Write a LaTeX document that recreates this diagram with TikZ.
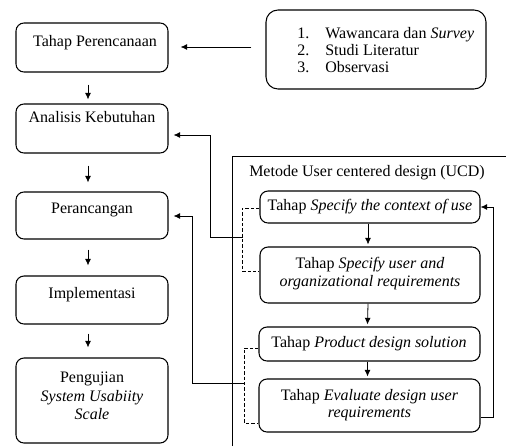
\documentclass[tikz,border=0pt]{standalone}
\usepackage{fontspec}
\setmainfont{Liberation Serif}
\usetikzlibrary{arrows.meta,calc}
\begin{document}
\begin{tikzpicture}[x=0.75pt,y=-0.75pt,
 box/.style={draw,rounded corners=6pt,line width=0.8pt,inner sep=0pt},
 txt/.style={font=\fontsize{12}{13}\selectfont,inner sep=0pt,align=center},
 arr/.style={-{Latex[length=5pt,width=4.5pt]},line width=0.6pt},
 ln/.style={line width=0.6pt},
 dsh/.style={line width=0.6pt,dash pattern=on 2.5pt off 1.5pt}]
\useasboundingbox (0,0) rectangle (506,446);
% left column
\node[box,minimum width=114pt,minimum height=36.75pt] (b1) at (92,47.5) {};
\node[box,minimum width=114pt,minimum height=36.75pt] (b2) at (92,128.5) {};
\node[box,minimum width=114pt,minimum height=35.25pt] (b3) at (92,215.5) {};
\node[box,minimum width=114pt,minimum height=36pt] (b4) at (92,300) {};
\node[box,minimum width=114pt,minimum height=63.75pt] (b5) at (92,400.5) {};
\node[txt] (t1) at (95,43) {Tahap Perencanaan};
\node[txt] (t2) at (92,117) {Analisis Kebutuhan};
\node[txt] (t3) at (92,210) {Perancangan};
\node[txt] (t4) at (92,295) {Implementasi};
\node[txt,font=\fontsize{12}{14}\selectfont] (t5) at (92,396) {Pengujian\\\emph{System Usabiity}\\\emph{Scale}};
\draw[arr] ($(b1.south)+(-4,12)$) -- ($(b2.north)+(-4,-4)$);
\draw[arr] ($(b2.south)+(-4,12)$) -- ($(b3.north)+(-4,-9)$);
\draw[arr] ($(b3.south)+(-4,10)$) -- ($(b4.north)+(-4,-10)$);
\draw[arr] ($(b4.south)+(-4,9)$) -- ($(b5.north)+(-4,-10)$);
% list box
\node[box,rounded corners=9pt,minimum width=165pt,minimum height=59.25pt] (lst) at (376,49.5) {};
\node[txt,align=left,anchor=west,font=\fontsize{12}{12.75}\selectfont] (lt) at (297,50)
 {\makebox[21pt][l]{1.}Wawancara dan \emph{Survey}\\\makebox[21pt][l]{2.}Studi Literatur\\\makebox[21pt][l]{3.}Observasi};
\draw[arr] ($(lst.west)+(-14,-2.5)$) -- ($(b1.east)+(12,-0.5)$);
% UCD frame
\draw[ln] (232,446) -- (232,156) -- (506,156);
\node[txt] (ttl) at (367,173) {Metode User centered design (UCD)};
\node[box,minimum width=165pt,minimum height=24pt] (c1) at (370,207) {};
\node[box,minimum width=165pt,minimum height=42pt] (c2) at (370,275) {};
\node[box,minimum width=165.75pt,minimum height=25.5pt] (c3) at (369.5,344) {};
\node[box,minimum width=165.75pt,minimum height=39.75pt] (c4) at (369.5,405.5) {};
\node[txt] (u1) at (370,207) {Tahap \emph{Specify the context of use}};
\node[txt,font=\fontsize{12}{13.5}\selectfont] (u2) at (370,274) {Tahap \emph{Specify user and}\\\emph{organizational requirements}};
\node[txt] (u3) at (369,344) {Tahap \emph{Product design solution}};
\node[txt,font=\fontsize{12}{12.75}\selectfont] (u4) at (369.5,405.5) {Tahap \emph{Evaluate design user}\\\emph{requirements}};
\draw[arr] ($(c1.south)+(-2,0)$) -- ($(c2.north)+(-2,-2)$);
\draw[arr] ($(c2.south)+(-2,0)$) -- ($(c3.north)+(-2,-2)$);
\draw[arr] ($(c3.south)+(-2,0)$) -- ($(c4.north)+(-2,-2)$);
\draw[arr] ($(c4.east)+(0,11.5)$) -- ++(13,0) |- (c1.east);
% dashed brackets
\draw[dsh] ($(c1.west)+(0,1)$) -- ++(-17,0) |- ($(c2.west)+(0,-4)$);
\draw[dsh] ($(c3.west)+(0,4)$) -- ++(-14,0) |- ($(c4.west)+(0,17.5)$);
\coordinate (j1) at (243,237);
\coordinate (j2) at (245,383);
\draw[arr] (j1) -| ($(b2.east)+(42,6.5)$) -- ($(b2.east)+(5,6.5)$);
\draw[arr] (j2) -| ($(b3.east)+(24,0.5)$) -- ($(b3.east)+(5,0.5)$);
\end{tikzpicture}
\end{document}
